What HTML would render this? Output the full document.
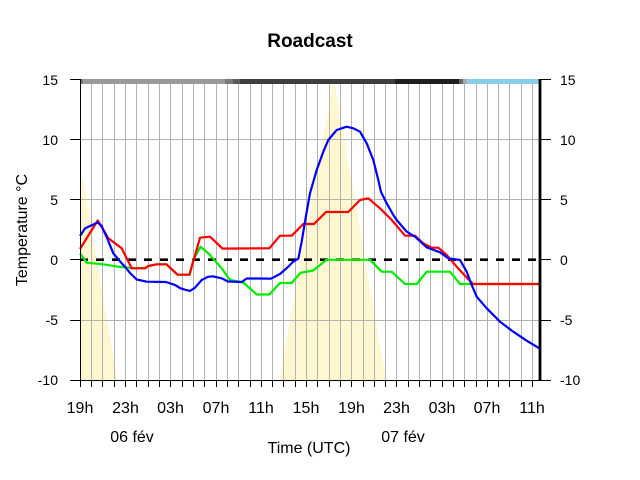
<!DOCTYPE html>
<html>
<head>
<meta charset="utf-8">
<style>
html,body{margin:0;padding:0;background:#fff;}
svg{display:block;}
text{font-family:"Liberation Sans",Arial,sans-serif;fill:#000;}
</style>
</head>
<body>
<svg width="640" height="480" viewBox="0 0 640 480" xmlns="http://www.w3.org/2000/svg">
<rect x="0" y="0" width="640" height="480" fill="#fff"/>

<!-- sun shading -->
<polygon points="80,178 83,178 117.3,380 80,380" fill="#fff7d0"/>
<polygon points="279,380 334,79 386,380" fill="#fff7d0"/>

<!-- vertical grid -->
<path stroke="#b2b2b2" stroke-width="1" fill="none" d="
M91.5,79V380 M102.5,79V380 M114.5,79V380 M125.5,79V380 M136.5,79V380 M148.5,79V380 M159.5,79V380 M170.5,79V380
M182.5,79V380 M193.5,79V380 M204.5,79V380 M216.5,79V380 M227.5,79V380 M238.5,79V380 M250.5,79V380 M261.5,79V380
M272.5,79V380 M283.5,79V380 M295.5,79V380 M306.5,79V380 M317.5,79V380 M329.5,79V380 M340.5,79V380 M351.5,79V380
M363.5,79V380 M374.5,79V380 M385.5,79V380 M396.5,79V380 M408.5,79V380 M419.5,79V380 M430.5,79V380 M442.5,79V380
M453.5,79V380 M464.5,79V380 M476.5,79V380 M487.5,79V380 M498.5,79V380 M509.5,79V380 M521.5,79V380 M532.5,79V380"/>
<!-- horizontal grid -->
<path stroke="#b2b2b2" stroke-width="1" fill="none" d="M80,139.5H540 M80,199.5H540 M80,320.5H540"/>

<!-- top band -->
<rect x="80" y="79" width="145" height="5" fill="#999999"/>
<rect x="80" y="79" width="3" height="5" fill="#7a7a7a"/>
<rect x="225" y="79" width="8" height="5" fill="#7a7a7a"/>
<rect x="233" y="79" width="7" height="5" fill="#5c5c5c"/>
<rect x="240" y="79" width="155" height="5" fill="#3e3e3e"/>
<rect x="395" y="79" width="64" height="5" fill="#1e1e1e"/>
<rect x="459" y="79" width="4" height="5" fill="#666666"/>
<rect x="463" y="79" width="4" height="5" fill="#aaaaaa"/>
<rect x="467" y="79" width="73" height="5" fill="#87ceeb"/>

<!-- zero dashed line -->
<line x1="80" y1="259.7" x2="538" y2="259.7" stroke="#000" stroke-width="2.6" stroke-dasharray="8,8"/>

<!-- series -->
<polyline fill="none" stroke="#00ee00" stroke-width="2.2" stroke-linejoin="round" points="80,253.3 86.7,262.7 103.3,264.3 118.3,266.7 131.7,268 145,268.3 148.3,266 156.7,264.3 166.5,264.3 177.5,274.7 189.5,274.7 193.3,260 200.5,246.7 208.3,253.3 221.7,268.3 230,280 243.3,282.5 256.7,294.5 269.3,294.5 280,283 291.7,283 300.5,272.8 313.3,270.5 326.5,259.8 370,259.8 381.7,271.7 391.7,271.7 405,284 416.7,284 426.7,271.7 450,271.7 460,284 540,284"/>
<polyline fill="none" stroke="#ff0000" stroke-width="2.2" stroke-linejoin="round" points="80,249 97.7,220.5 103,229 108.3,238.3 115,243.3 121.7,248.3 131.7,268.3 145,268.3 148.3,266 156.7,264.3 166.5,264.3 177.5,274.7 189.5,274.7 200,237.7 210,236.7 222.5,248.6 269.3,248.3 280,235.7 291.7,235.7 303.3,224 314,224 326,212 348.3,212 360,200 368.3,198.3 380,208.3 391.7,220 405,235.7 415,235.7 423.3,243.3 431.7,247.7 438.3,247.7 446.7,255 456.7,266.7 468.3,279.3 473.3,284 540,284"/>
<polyline fill="none" stroke="#0000ff" stroke-width="2.2" stroke-linejoin="round" points="80,236 85,228.5 90,226 97.7,222.5 101.7,226 103.3,230 106.7,237 113.3,253.3 121.7,263.3 125,266.7 130,273 136.7,279.5 146.7,281.7 166,282 175,285 180,288 183.3,289.2 190,291 195,287.7 201.7,280 208.3,276.7 213.3,276.4 221.7,278.3 228,281.5 241.7,282 246.7,278.5 258.3,278.5 271,278.7 280,274 288.3,266.7 293.3,261.5 298.3,258.7 301.7,241.7 305,221.5 310,193.3 316.7,170 323.3,151.7 328.3,140 336.7,130 346.7,126.7 353.3,128.3 360,131.7 366.7,143.3 373.3,160 378.3,180 381,192 386.7,203.3 393.3,215 396.7,220 406.7,231.7 415,236.7 426.7,247.3 440,252.3 448.3,258.3 460,260 466.7,271.7 471.7,285 476.7,296.7 486.7,308.3 500,321.7 513.3,331.7 526.7,340.7 539.3,348.3"/>

<!-- axes -->
<line x1="80.5" y1="79" x2="80.5" y2="380" stroke="#000" stroke-width="1"/>
<line x1="540" y1="79" x2="540" y2="381" stroke="#000" stroke-width="2.8"/>
<line x1="70" y1="380.5" x2="551" y2="380.5" stroke="#000" stroke-width="1"/>
<!-- left ticks -->
<path stroke="#000" stroke-width="1" d="M70,79.5H80 M70,139.5H80 M70,199.5H80 M70,259.5H80 M70,320.5H80"/>
<!-- right ticks -->
<path stroke="#000" stroke-width="1" d="M540,79.5H551 M540,139.5H551 M540,199.5H551 M540,259.5H551 M540,320.5H551"/>
<!-- bottom ticks -->
<path stroke="#000" stroke-width="1" d="
M80.5,380V387 M91.5,380V387 M102.5,380V387 M114.5,380V387 M125.5,380V387 M136.5,380V387 M148.5,380V387 M159.5,380V387 M170.5,380V387
M182.5,380V387 M193.5,380V387 M204.5,380V387 M216.5,380V387 M227.5,380V387 M238.5,380V387 M250.5,380V387 M261.5,380V387
M272.5,380V387 M283.5,380V387 M295.5,380V387 M306.5,380V387 M317.5,380V387 M329.5,380V387 M340.5,380V387 M351.5,380V387
M363.5,380V387 M374.5,380V387 M385.5,380V387 M396.5,380V387 M408.5,380V387 M419.5,380V387 M430.5,380V387 M442.5,380V387
M453.5,380V387 M464.5,380V387 M476.5,380V387 M487.5,380V387 M498.5,380V387 M509.5,380V387 M521.5,380V387 M532.5,380V387"/>

<!-- title -->
<text x="310" y="47" font-size="19" font-weight="bold" text-anchor="middle">Roadcast</text>

<!-- left y labels -->
<g font-size="14" text-anchor="end">
<text x="58" y="85">15</text>
<text x="58" y="145">10</text>
<text x="58" y="205">5</text>
<text x="58" y="265">0</text>
<text x="58" y="325">-5</text>
<text x="58" y="385">-10</text>
</g>
<!-- right y labels -->
<g font-size="14" text-anchor="start">
<text x="560" y="85">15</text>
<text x="560" y="145">10</text>
<text x="560" y="205">5</text>
<text x="560" y="265">0</text>
<text x="560" y="325">-5</text>
<text x="560" y="385">-10</text>
</g>

<!-- y title -->
<text transform="translate(27,230) rotate(-90)" font-size="16" text-anchor="middle">Temperature °C</text>

<!-- x labels -->
<g font-size="16" text-anchor="middle">
<text x="80" y="413">19h</text>
<text x="125.5" y="413">23h</text>
<text x="170.5" y="413">03h</text>
<text x="216" y="413">07h</text>
<text x="261" y="413">11h</text>
<text x="306" y="413">15h</text>
<text x="351.5" y="413">19h</text>
<text x="396.5" y="413">23h</text>
<text x="442" y="413">03h</text>
<text x="487" y="413">07h</text>
<text x="532" y="413">11h</text>
<text x="132" y="442">06 fév</text>
<text x="403" y="442">07 fév</text>
<text x="309" y="453">Time (UTC)</text>
</g>
</svg>
</body>
</html>
